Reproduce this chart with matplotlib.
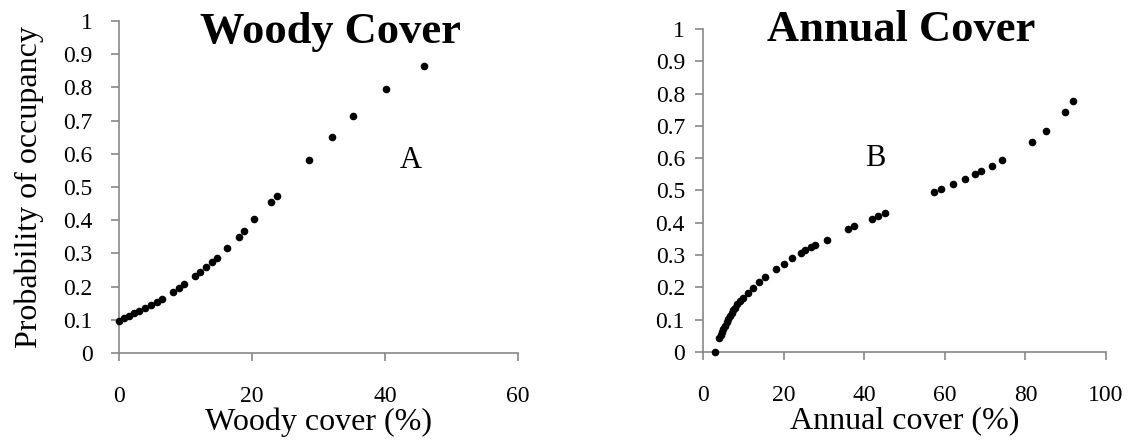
import matplotlib
matplotlib.use("Agg")
import matplotlib.pyplot as plt

woody_x = [0, 0.75, 1.55, 2.3, 3.05, 3.9, 4.76, 5.66, 6.47, 8.07, 8.97, 9.82, 11.38,
           12.18, 13.08, 13.94, 14.69, 16.29, 18.0, 18.8, 20.35, 22.9, 23.7, 28.6,
           32.0, 35.2, 40.1, 45.9]
woody_y = [0.097, 0.105, 0.112, 0.12, 0.126, 0.135, 0.144, 0.153, 0.163, 0.184, 0.196,
           0.207, 0.231, 0.245, 0.259, 0.274, 0.287, 0.317, 0.350, 0.368, 0.403, 0.456,
           0.474, 0.581, 0.652, 0.715, 0.795, 0.865]

annual_x = [3.0, 4.05, 4.4, 4.7, 5.05, 5.46, 5.88, 6.29, 6.7, 7.1, 7.53, 7.94, 8.5,
            9.18, 9.84, 11.1, 12.4, 13.8, 15.5, 18.0, 20.0, 22.0, 24.2, 25.3, 26.7,
            27.9, 30.7, 36.0, 37.5, 42.0, 43.5, 45.2, 57.4, 59.1, 62.0, 65.0, 67.5,
            69.0, 71.6, 74.1, 81.6, 85.0, 89.8, 91.9]
annual_y = [0.0, 0.042, 0.052, 0.061, 0.070, 0.081, 0.092, 0.103, 0.112, 0.122, 0.130,
            0.137, 0.149, 0.159, 0.167, 0.183, 0.199, 0.217, 0.232, 0.257, 0.273, 0.290,
            0.307, 0.315, 0.324, 0.332, 0.348, 0.381, 0.390, 0.413, 0.421, 0.429, 0.495,
            0.504, 0.520, 0.536, 0.552, 0.560, 0.577, 0.593, 0.651, 0.684, 0.742, 0.776]

y_ticks = [0, 0.1, 0.2, 0.3, 0.4, 0.5, 0.6, 0.7, 0.8, 0.9, 1]
y_ticklabels = ["0", "0.1", "0.2", "0.3", "0.4", "0.5", "0.6", "0.7", "0.8", "0.9", "1"]
woody_xticks = [0, 20, 40, 60]
annual_xticks = [0, 20, 40, 60, 80, 100]

plt.rcParams['font.family'] = ['Liberation Serif', 'DejaVu Serif']
GRAY = '#878787'

fig = plt.figure(figsize=(11.36, 4.42), dpi=100)
ax1 = fig.add_axes([0.10475, 0.20136, 0.35123, 0.75113])
ax2 = fig.add_axes([0.61884, 0.20362, 0.35475, 0.73077])


def style(ax, xticks, xmax, ypad):
    ax.set_xlim(0, xmax)
    ax.set_ylim(0, 1)
    ax.set_xticks(xticks)
    ax.set_xticklabels([str(t) for t in xticks])
    ax.set_yticks(y_ticks)
    ax.set_yticklabels(y_ticklabels)
    for s in ['top', 'right']:
        ax.spines[s].set_visible(False)
    for s in ['left', 'bottom']:
        ax.spines[s].set_color(GRAY)
        ax.spines[s].set_linewidth(1.2)
    ax.tick_params(axis='both', direction='out', length=6, width=1.2, color=GRAY,
                   labelsize=17, labelcolor='black')
    ax.tick_params(axis='y', pad=ypad)
    ax.tick_params(axis='x', pad=18)


style(ax1, woody_xticks, 60, 13)
style(ax2, annual_xticks, 100, 7)

ax1.scatter(woody_x, woody_y, s=20, color='black', zorder=3, clip_on=False)
ax2.scatter(annual_x, annual_y, s=20, color='black', zorder=3, clip_on=False)

ax1.set_xlabel("Woody cover (%)", fontsize=23, labelpad=0)
ax2.set_xlabel("Annual cover (%)", fontsize=23, labelpad=0)
ax1.set_ylabel("Probability of occupancy", fontsize=23, labelpad=14)

ax1.text(43.8, 0.58, "A", fontsize=22, ha='center', va='center')
ax2.text(42.7, 0.60, "B", fontsize=22, ha='center', va='center')

fig.text(330 / 1136, 1 - 43 / 442, "Woody Cover", fontsize=32, fontweight='bold',
         ha='center', va='baseline')
fig.text(901 / 1136, 1 - 41 / 442, "Annual Cover", fontsize=32, fontweight='bold',
         ha='center', va='baseline')

fig.savefig("out.png", dpi=100)
